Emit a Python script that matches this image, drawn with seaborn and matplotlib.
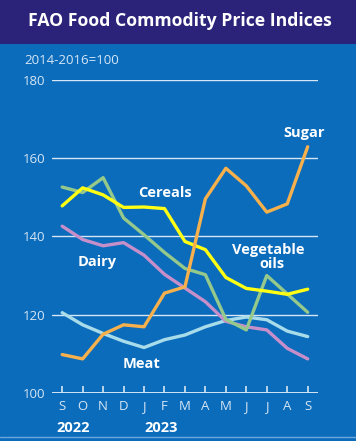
import pandas as pd
import numpy as np
import matplotlib
matplotlib.use('Agg')
import matplotlib.pyplot as plt
import seaborn as sns

# meses sep 2022 - sep 2023
months = ['S', 'O', 'N', 'D', 'J', 'F', 'M', 'A', 'M', 'J', 'J', 'A', 'S']

cereals = [147.8, 152.4, 150.6, 147.4, 147.5, 147.1, 138.7, 136.6, 129.5, 126.7, 126.0, 125.2, 126.5]
veg_oils = [152.6, 151.2, 155.0, 144.7, 140.4, 135.9, 131.8, 130.2, 118.8, 116.1, 130.0, 125.3, 120.6]
dairy = [142.6, 139.2, 137.6, 138.4, 135.2, 130.3, 126.8, 123.3, 118.3, 116.9, 116.1, 111.4, 108.7]
meat = [120.5, 117.4, 115.2, 113.2, 111.6, 113.6, 114.8, 116.9, 118.5, 119.4, 118.7, 115.8, 114.4]
sugar = [109.8, 108.7, 115.0, 117.4, 116.9, 125.5, 127.1, 149.6, 157.4, 152.9, 146.2, 148.3, 162.9]

series = {'Meat': meat, 'Dairy': dairy, 'Vegetable oils': veg_oils,
          'Cereals': cereals, 'Sugar': sugar}
colores = {'Meat': '#a8dcea', 'Dairy': '#c78fc9', 'Vegetable oils': '#95c98c',
           'Cereals': '#ffff14', 'Sugar': '#f6b04c'}

rows = []
for name, vals in series.items():
    for i, v in enumerate(vals):
        rows.append({'idx': i, 'value': v, 'serie': name})
df = pd.DataFrame(rows)

bg = '#0b6cbc'
pale = '#d6e6f4'

sns.set_theme(style='white')
plt.rcParams['font.family'] = ['Open Sans', 'DejaVu Sans']

fig = plt.figure(figsize=(3.56, 4.41), dpi=100, facecolor=bg)
ax = fig.add_axes([0.146, 0.109, 0.747, 0.710])
ax.set_facecolor(bg)

for y in [120, 140, 160, 180]:
    ax.axhline(y, color=pale, lw=1.0, zorder=1)
ax.axhline(100, color=pale, lw=1.4, zorder=1)

sns.lineplot(data=df, x='idx', y='value', hue='serie', palette=colores,
             hue_order=list(series.keys()), linewidth=2.4, legend=False,
             ax=ax, zorder=3)

ax.set_xlim(-0.5, 12.5)
ax.set_ylim(100, 180)
for s in ax.spines.values():
    s.set_visible(False)
ax.set_xlabel('')
ax.set_ylabel('')
ax.set_xticks(range(13))
ax.set_xticklabels(months, color=pale, fontsize=9.5)
ax.tick_params(axis='x', direction='in', length=5, width=1.2, color=pale, pad=5, bottom=True)
ax.set_yticks([100, 120, 140, 160, 180])
ax.set_yticklabels(['100', '120', '140', '160', '180'], color=pale, fontsize=9.5)
ax.tick_params(axis='y', length=0, pad=5)

# etiquetas de series
lab = dict(color='white', fontsize=10.5, fontweight='bold', ha='center', va='center')
ax.text(11.85, 166.5, 'Sugar', **lab)
ax.text(5.0, 151.1, 'Cereals', **lab)
ax.text(10.05, 136.6, 'Vegetable', **lab)
ax.text(10.25, 133.0, 'oils', **lab)
ax.text(1.7, 133.5, 'Dairy', **lab)
ax.text(3.9, 107.4, 'Meat', **lab)

# años
fig.text(73 / 356, 1 - 428 / 441, '2022', color='white', fontsize=10.5, fontweight='bold', ha='center', va='center')
fig.text(161 / 356, 1 - 428 / 441, '2023', color='white', fontsize=10.5, fontweight='bold', ha='center', va='center')

fig.text(24 / 356, 1 - 60 / 441, '2014-2016=100', color=pale, fontsize=9.5, ha='left', va='center')

# barra de titulo
fig.patches.append(plt.Rectangle((0, 1 - 44 / 441), 1, 44 / 441, transform=fig.transFigure,
                                 facecolor='#2b237a', edgecolor='none', zorder=0))
fig.text(0.505, 1 - 21 / 441, 'FAO Food Commodity Price Indices', color='white',
         fontsize=12.7, fontweight='bold', ha='center', va='center')
fig.lines.append(plt.Line2D([0, 1], [4 / 441, 4 / 441], transform=fig.transFigure,
                            color='#6aa8dc', lw=1))

plt.savefig('out.png', dpi=100, facecolor=bg)
plt.close()
